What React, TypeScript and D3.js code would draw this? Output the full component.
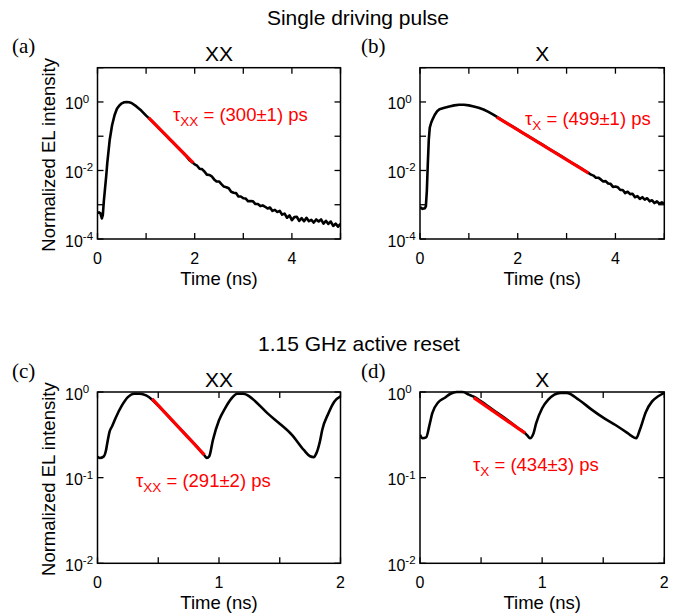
import React from "react";
import * as d3 from "d3";

// ---------- DATA (time in ns, intensity stored as log10 of normalized EL intensity) ----------
const timeA = [0, 0.03, 0.06, 0.09, 0.11, 0.13, 0.15, 0.18, 0.2, 0.25, 0.3, 0.35, 0.4, 0.45, 0.5, 0.55, 0.6, 0.65, 0.7, 0.8, 0.9, 1.0, 1.1, 1.2, 1.3, 1.4, 1.5, 1.6, 1.7, 1.8, 1.9, 2.0,
  2.05, 2.1, 2.15, 2.2, 2.25, 2.3, 2.35, 2.4, 2.45, 2.5, 2.55, 2.6, 2.65, 2.7, 2.75, 2.8, 2.85, 2.9, 2.95, 3.0,
  3.05, 3.1, 3.15, 3.2, 3.25, 3.3, 3.35, 3.4, 3.45, 3.5, 3.55, 3.6, 3.65, 3.7, 3.75, 3.8, 3.85, 3.9, 3.95, 4.0,
  4.05, 4.1, 4.15, 4.2, 4.25, 4.3, 4.35, 4.4, 4.45, 4.5, 4.55, 4.6, 4.65, 4.7, 4.75, 4.8, 4.85, 4.9, 4.95, 5.0];
const logA = [-3.25, -3.22, -3.25, -3.4, -3.3, -2.9, -2.6, -2.15, -1.8, -1.12, -0.68, -0.39, -0.2, -0.1, -0.04, -0.01, 0, -0.01, -0.03, -0.13, -0.25, -0.4, -0.53, -0.67, -0.82, -0.96, -1.11, -1.25, -1.4, -1.54, -1.71, -1.82,
  -1.86, -1.95, -1.96, -2.03, -2.12, -2.13, -2.17, -2.26, -2.32, -2.32, -2.4, -2.47, -2.49, -2.52, -2.62, -2.65, -2.66, -2.76, -2.76, -2.81,
  -2.82, -2.9, -2.89, -2.9, -2.98, -2.98, -3.04, -3.02, -3.06, -3.11, -3.08, -3.18, -3.15, -3.21, -3.18, -3.29, -3.26, -3.38, -3.31, -3.45,
  -3.36, -3.35, -3.47, -3.39, -3.48, -3.38, -3.48, -3.44, -3.52, -3.43, -3.49, -3.43, -3.55, -3.47, -3.56, -3.49, -3.62, -3.55, -3.64, -3.56];

const timeB = [0, 0.05, 0.1, 0.12, 0.14, 0.16, 0.18, 0.2, 0.23, 0.26, 0.3, 0.35, 0.4, 0.45, 0.5, 0.6, 0.7, 0.8, 0.9, 1.0, 1.1, 1.2, 1.3, 1.4, 1.5, 1.6,
  1.7, 1.8, 1.9, 2.0, 2.1, 2.2, 2.3, 2.4, 2.5, 2.6, 2.7, 2.8, 2.9, 3.0, 3.1, 3.2, 3.3, 3.4, 3.5,
  3.55, 3.6, 3.65, 3.7, 3.75, 3.8, 3.85, 3.9, 3.95, 4.0, 4.05, 4.1, 4.15, 4.2, 4.25, 4.3, 4.35, 4.4, 4.45, 4.5, 4.55, 4.6, 4.65, 4.7, 4.75, 4.8, 4.85, 4.9, 4.95, 5.0];
const logB = [-3.07, -3.12, -3.1, -3.05, -2.6, -1.8, -1.1, -0.75, -0.6, -0.5, -0.38, -0.27, -0.21, -0.19, -0.17, -0.13, -0.1, -0.08, -0.08, -0.1, -0.13, -0.17, -0.22, -0.29, -0.37, -0.46,
  -0.55, -0.64, -0.72, -0.81, -0.9, -0.98, -1.07, -1.16, -1.24, -1.33, -1.42, -1.5, -1.59, -1.68, -1.77, -1.85, -1.94, -2.03, -2.12,
  -2.15, -2.21, -2.21, -2.26, -2.32, -2.31, -2.38, -2.39, -2.48, -2.47, -2.49, -2.57, -2.57, -2.66, -2.62, -2.69, -2.68, -2.78, -2.75, -2.83, -2.78, -2.85, -2.81, -2.9, -2.87, -2.95, -2.9, -2.97, -2.93, -2.97];

const timeC = [0, 0.02, 0.05, 0.07, 0.08, 0.1, 0.12, 0.15, 0.2, 0.25, 0.3, 0.35, 0.4, 0.45, 0.5, 0.6, 0.7, 0.8, 0.88, 0.9, 0.92, 0.95, 1.0, 1.05, 1.1, 1.15, 1.2, 1.25, 1.3, 1.4, 1.5, 1.6, 1.7, 1.75, 1.78, 1.8, 1.83, 1.85, 1.9, 1.95, 2.0];
const logC = [-0.755, -0.77, -0.755, -0.68, -0.6, -0.46, -0.4, -0.3, -0.16, -0.06, -0.02, -0.02, -0.04, -0.09, -0.16, -0.31, -0.46, -0.61, -0.74, -0.77, -0.75, -0.56, -0.33, -0.19, -0.08, -0.02, -0.02, -0.05, -0.11, -0.25, -0.37, -0.5, -0.68, -0.75, -0.76, -0.72, -0.58, -0.44, -0.25, -0.11, -0.05];

const timeD = [0, 0.02, 0.05, 0.08, 0.1, 0.15, 0.2, 0.25, 0.3, 0.35, 0.4, 0.44, 0.5, 0.6, 0.7, 0.8, 0.86, 0.88, 0.9, 0.93, 0.95, 1.0, 1.05, 1.1, 1.15, 1.2, 1.3, 1.4, 1.5, 1.6, 1.7, 1.75, 1.77, 1.8, 1.85, 1.9, 1.95, 2.0];
const logD = [-0.5, -0.54, -0.53, -0.37, -0.25, -0.12, -0.07, -0.02, 0, 0, -0.03, -0.055, -0.11, -0.21, -0.31, -0.42, -0.48, -0.51, -0.54, -0.48, -0.37, -0.19, -0.09, -0.03, -0.01, -0.01, -0.09, -0.2, -0.3, -0.385, -0.48, -0.53, -0.54, -0.44, -0.23, -0.11, -0.05, -0.01];

// mono-exponential fits: [start, end] time and log10 intensity
const fitTimeA = [1.05, 1.97];
const fitLogA = [-0.46, -1.78];
const fitTimeB = [1.57, 3.45];
const fitLogB = [-0.44, -2.08];
const fitTimeC = [0.45, 0.88];
const fitLogC = [-0.08, -0.735];
const fitTimeD = [0.44, 0.86];
const fitLogD = [-0.065, -0.48];

const panelLetters = ["(a)", "(b)", "(c)", "(d)"];
const panelTitles = ["XX", "X", "XX", "X"];
const fitSubscripts = ["XX", "X", "XX", "X"];
const fitTexts = [" = (300±1) ps", " = (499±1) ps", " = (291±2) ps", " = (434±3) ps"];
const rowTitles = ["Single driving pulse", "1.15 GHz active reset"];
const xLabel = "Time (ns)";
const yLabel = "Normalized EL intensity";

const FONT = "'Liberation Sans', Arial, Helvetica, sans-serif";
const SERIF = "'Liberation Serif', 'DejaVu Serif', serif";

type PanelCfg = {
  left: number; right: number; top: number; bottom: number;
  xDomain: [number, number]; yDomain: [number, number];
  xTicks: number[]; xTickLabels: number[];
  yTicks: number[]; yTickLabels: number[];
  t: number[]; l: number[]; ft: number[]; fl: number[];
  idx: number; showYLabel: boolean; smooth: boolean;
  annX: number; annY: number; titleY: number; letterY: number; letterX: number;
};

const panels: PanelCfg[] = [
  { left: 97.5, right: 340.5, top: 67.7, bottom: 239, xDomain: [0, 5], yDomain: [1e-4, 10],
    xTicks: [0, 1, 2, 3, 4, 5], xTickLabels: [0, 2, 4], yTicks: [-4, -3, -2, -1, 0, 1], yTickLabels: [-4, -2, 0],
    t: timeA, l: logA, ft: fitTimeA, fl: fitLogA, idx: 0, showYLabel: true, smooth: false, annX: 173, annY: 121, titleY: 61, letterY: 53, letterX: 12 },
  { left: 420, right: 664.3, top: 67.7, bottom: 239, xDomain: [0, 5], yDomain: [1e-4, 10],
    xTicks: [0, 1, 2, 3, 4, 5], xTickLabels: [0, 2, 4], yTicks: [-4, -3, -2, -1, 0, 1], yTickLabels: [-4, -2, 0],
    t: timeB, l: logB, ft: fitTimeB, fl: fitLogB, idx: 1, showYLabel: false, smooth: false, annX: 525, annY: 125, titleY: 61, letterY: 53, letterX: 361 },
  { left: 97.5, right: 340.5, top: 392, bottom: 563.3, xDomain: [0, 2], yDomain: [1e-2, 1],
    xTicks: [0, 0.5, 1, 1.5, 2], xTickLabels: [0, 1, 2], yTicks: [-2, -1, 0], yTickLabels: [-2, -1, 0],
    t: timeC, l: logC, ft: fitTimeC, fl: fitLogC, idx: 2, showYLabel: true, smooth: true, annX: 136, annY: 487, titleY: 387, letterY: 378, letterX: 12 },
  { left: 420, right: 664.3, top: 392, bottom: 563.3, xDomain: [0, 2], yDomain: [1e-2, 1],
    xTicks: [0, 0.5, 1, 1.5, 2], xTickLabels: [0, 1, 2], yTicks: [-2, -1, 0], yTickLabels: [-2, -1, 0],
    t: timeD, l: logD, ft: fitTimeD, fl: fitLogD, idx: 3, showYLabel: false, smooth: true, annX: 473, annY: 471, titleY: 387, letterY: 378, letterX: 361 },
];

const TICK = 6;

function Panel({ p }: { p: PanelCfg }) {
  const x = d3.scaleLinear().domain(p.xDomain).range([p.left, p.right]);
  const y = d3.scaleLog().domain(p.yDomain).range([p.bottom, p.top]);
  const pts: [number, number][] = p.t.map((t, i) => [t, Math.pow(10, p.l[i])]);
  const line = d3.line<[number, number]>().x(d => x(d[0])).y(d => y(d[1]))
    .curve(p.smooth ? d3.curveMonotoneX : d3.curveLinear);
  const fitPts: [number, number][] = p.ft.map((t, i) => [t, Math.pow(10, p.fl[i])]);
  const fitLine = d3.line<[number, number]>().x(d => x(d[0])).y(d => y(d[1]));
  const clipId = `clip-${p.idx}`;
  const cx = (p.left + p.right) / 2;
  const cy = (p.top + p.bottom) / 2;
  return (
    <g>
      <defs>
        <clipPath id={clipId}>
          <rect x={p.left} y={p.top - 2} width={p.right - p.left} height={p.bottom - p.top + 2} />
        </clipPath>
      </defs>
      {p.xTicks.map(v => (
        <g key={`xt${v}`} stroke="#000" strokeWidth={1.3}>
          <line x1={x(v)} x2={x(v)} y1={p.bottom} y2={p.bottom - TICK} />
          <line x1={x(v)} x2={x(v)} y1={p.top} y2={p.top + TICK} />
        </g>
      ))}
      {p.yTicks.map(e => (
        <g key={`yt${e}`} stroke="#000" strokeWidth={1.3}>
          <line x1={p.left} x2={p.left + TICK} y1={y(Math.pow(10, e))} y2={y(Math.pow(10, e))} />
          <line x1={p.right} x2={p.right - TICK} y1={y(Math.pow(10, e))} y2={y(Math.pow(10, e))} />
        </g>
      ))}
      <g clipPath={`url(#${clipId})`}>
        <path d={line(pts) || ""} fill="none" stroke="#000" strokeWidth={2.6} strokeLinejoin="round" />
        <path d={fitLine(fitPts) || ""} fill="none" stroke="#ff0000" strokeWidth={3.2} />
      </g>
      <rect x={p.left} y={p.top} width={p.right - p.left} height={p.bottom - p.top} fill="none" stroke="#000" strokeWidth={1.5} />
      {p.xTickLabels.map(v => (
        <text key={`xl${v}`} x={x(v)} y={p.bottom + 25} textAnchor="middle" fontFamily={FONT} fontSize={16}>{v}</text>
      ))}
      {p.yTickLabels.map(e => (
        <text key={`yl${e}`} x={p.left - 32.5} y={y(Math.pow(10, e)) + 7.5} fontFamily={FONT} fontSize={16}>
          10<tspan dy={-6.5} fontSize={11.5}>{e}</tspan>
        </text>
      ))}
      <text x={cx} y={p.bottom + 45.5} textAnchor="middle" fontFamily={FONT} fontSize={18.5}>{xLabel}</text>
      {p.showYLabel && (
        <text transform={`translate(55,${cy + 1.5}) rotate(-90)`} textAnchor="middle" fontFamily={FONT} fontSize={18.5}>{yLabel}</text>
      )}
      <text x={cx} y={p.titleY} textAnchor="middle" fontFamily={FONT} fontSize={21}>{panelTitles[p.idx]}</text>
      <text x={p.letterX} y={p.letterY} fontFamily={SERIF} fontSize={21}>{panelLetters[p.idx]}</text>
      <text x={p.annX} y={p.annY} fontFamily={FONT} fontSize={18.5} fill="#ff0000">
        τ<tspan dy={5} fontSize={13.5}>{fitSubscripts[p.idx]}</tspan><tspan dy={-5}>{fitTexts[p.idx]}</tspan>
      </text>
    </g>
  );
}

export default function App() {
  return (
    <svg width={677} height={615} style={{ position: "absolute", left: 0, top: 0, background: "#fff" }}>
      <rect x={0} y={0} width={677} height={615} fill="#fff" />
      <text x={358} y={25} textAnchor="middle" fontFamily={FONT} fontSize={21}>{rowTitles[0]}</text>
      <text x={359} y={351} textAnchor="middle" fontFamily={FONT} fontSize={21}>{rowTitles[1]}</text>
      {panels.map(p => <Panel key={p.idx} p={p} />)}
    </svg>
  );
}
